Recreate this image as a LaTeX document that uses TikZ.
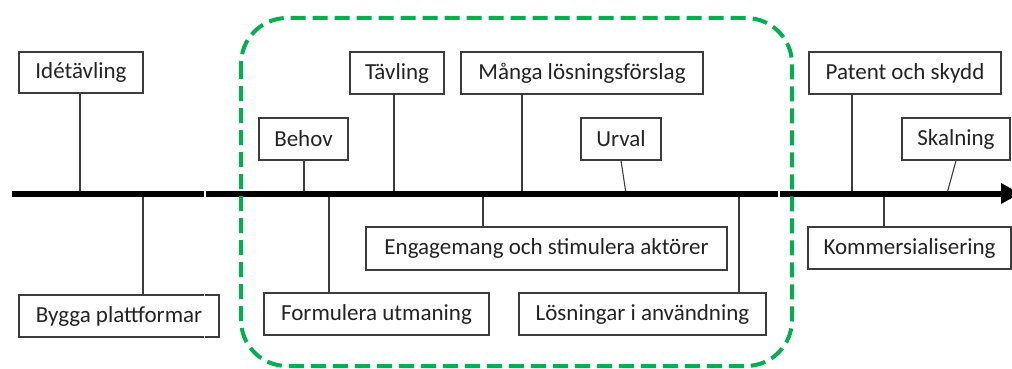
\documentclass[tikz,border=0pt]{standalone}
\usepackage{fontspec}
\setmainfont{Carlito}
\definecolor{dashgreen}{RGB}{0,176,80}
\definecolor{boxline}{RGB}{60,60,60}
\definecolor{txt}{RGB}{35,35,35}
\begin{document}
\begin{tikzpicture}[x=1pt,y=-1pt,
  tbox/.style={draw=boxline, line width=1.3pt, inner sep=0pt, minimum height=42pt,
    font=\fontsize{23}{27}\selectfont, text=txt},
  link/.style={draw=boxline, line width=1.1pt},
  axisline/.style={line width=6pt, black},
  region/.style={draw=dashgreen, line width=4pt, dash pattern=on 15pt off 7pt, rounded corners=46pt}]
\useasboundingbox (0,0) rectangle (1012,369);
% boxes
\node[tbox, minimum width=124pt, minimum height=41pt] (ide) at (81,72.5) {Idétävling};
\node[tbox, minimum width=89pt] (behov) at (303.5,139) {Behov};
\node[tbox, minimum width=94pt] (tavling) at (397,73) {Tävling};
\node[tbox, minimum width=242pt] (manga) at (582,73) {Många lösningsförslag};
\node[tbox, minimum width=80pt] (urval) at (621,139) {Urval};
\node[tbox, minimum width=192pt] (patent) at (905,73) {Patent och skydd};
\node[tbox, minimum width=108pt] (skal) at (956,139) {Skalning};
\node[tbox, minimum width=203pt] (komm) at (909.5,248) {Kommersialisering};
\node[tbox, minimum width=200pt] (bygga) at (119,316) {Bygga plattformar};
\node[tbox, minimum width=225pt] (form) at (376.5,314) {Formulera utmaning};
\node[tbox, minimum width=361pt, minimum height=43pt] (eng) at (546.5,248.5) {Engagemang och stimulera aktörer};
\node[tbox, minimum width=247pt] (losn) at (642.5,314) {Lösningar i användning};
% axis points
\coordinate (start) at (12,193.5);
\coordinate (tipbase) at (1002,193.5);
\coordinate (aide) at (80,193.5);
\coordinate (abyg) at (143,193.5);
\coordinate (abeh) at (304,193.5);
\coordinate (afor) at (329,193.5);
\coordinate (atav) at (394,193.5);
\coordinate (aeng) at (483,193.5);
\coordinate (aman) at (522,193.5);
\coordinate (aurv) at (626,193.5);
\coordinate (alos) at (739,193.5);
\coordinate (apat) at (852,193.5);
\coordinate (akom) at (884,193.5);
\coordinate (aska) at (947,193.5);
% connectors
\draw[link] (ide.south -| aide) -- (aide);
\draw[link] (bygga.north -| abyg) -- (abyg);
\draw[link] (behov.south -| abeh) -- (abeh);
\draw[link] (form.north -| afor) -- (afor);
\draw[link] (tavling.south -| atav) -- (atav);
\draw[link] (eng.north -| aeng) -- (aeng);
\draw[link] (manga.south -| aman) -- (aman);
\draw[link] (urval.south) -- (aurv);
\draw[link] (losn.north -| alos) -- (alos);
\draw[link] (patent.south -| apat) -- (apat);
\draw[link] (komm.north -| akom) -- (akom);
\draw[link] (skal.south) -- (aska);
% axis
\draw[axisline] (start) -- (tipbase);
\fill[black] (1001,183) -- (1001,204) -- (1020,193.5) -- cycle;
% white seams
\draw[white, line width=1.4pt] (204.8,189) -- (204.8,198);
\draw[white, line width=1.2pt] (204.8,294) -- (204.8,338);
\draw[white, line width=1.4pt] (779,189) -- (779,198);
% green region
\draw[region] (241,18) rectangle (792,366);
\end{tikzpicture}
\end{document}
